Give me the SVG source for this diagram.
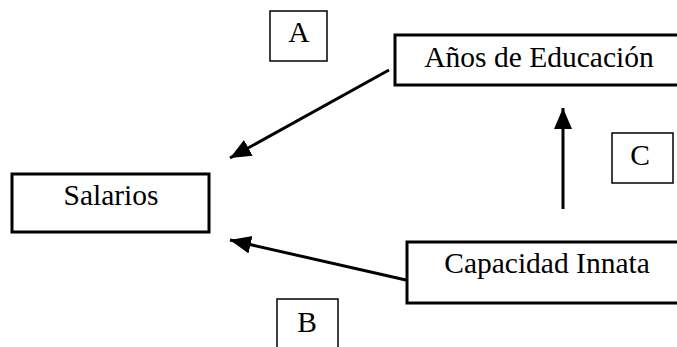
<svg xmlns="http://www.w3.org/2000/svg" width="677" height="347" viewBox="0 0 677 347">
  <style>
    .node { fill: #fff; stroke: #000; stroke-width: 3; }
    .tag { fill: #fff; stroke: #000; stroke-width: 1.5; }
    .lbl { font-family: "Liberation Serif", "Times New Roman", serif; font-size: 29.5px; fill: #000; text-anchor: middle; }
    .edge { stroke: #000; stroke-width: 3; fill: none; marker-end: url(#head); }
  </style>
  <defs>
    <marker id="head" markerUnits="userSpaceOnUse" markerWidth="24" markerHeight="20" refX="21" refY="9" orient="auto">
      <path d="M0,0 L21,9 L0,18 Z" fill="#000"/>
    </marker>
  </defs>
  <rect width="677" height="347" fill="#fff"/>

  <g id="connectors">
    <line class="edge" x1="389" y1="70" x2="230" y2="158"/>
    <line class="edge" x1="406" y1="280" x2="230" y2="240"/>
    <line class="edge" x1="563" y1="209" x2="563" y2="108"/>
  </g>

  <g id="label-a">
    <rect class="tag" x="270" y="11" width="57" height="50"/>
    <text class="lbl" x="299" y="42">A</text>
  </g>
  <g id="anos-educacion">
    <rect class="node" x="395" y="35" width="290" height="50"/>
    <text class="lbl" x="539" y="67">Años de Educación</text>
  </g>
  <g id="label-c">
    <rect class="tag" x="612" y="133" width="61" height="50"/>
    <text class="lbl" x="640" y="165">C</text>
  </g>
  <g id="salarios">
    <rect class="node" x="12" y="174" width="197" height="58"/>
    <text class="lbl" x="111" y="205">Salarios</text>
  </g>
  <g id="capacidad-innata">
    <rect class="node" x="407" y="242" width="280" height="61"/>
    <text class="lbl" x="547" y="273">Capacidad Innata</text>
  </g>
  <g id="label-b">
    <rect class="tag" x="277" y="299" width="61" height="60"/>
    <text class="lbl" x="307" y="332">B</text>
  </g>
</svg>
